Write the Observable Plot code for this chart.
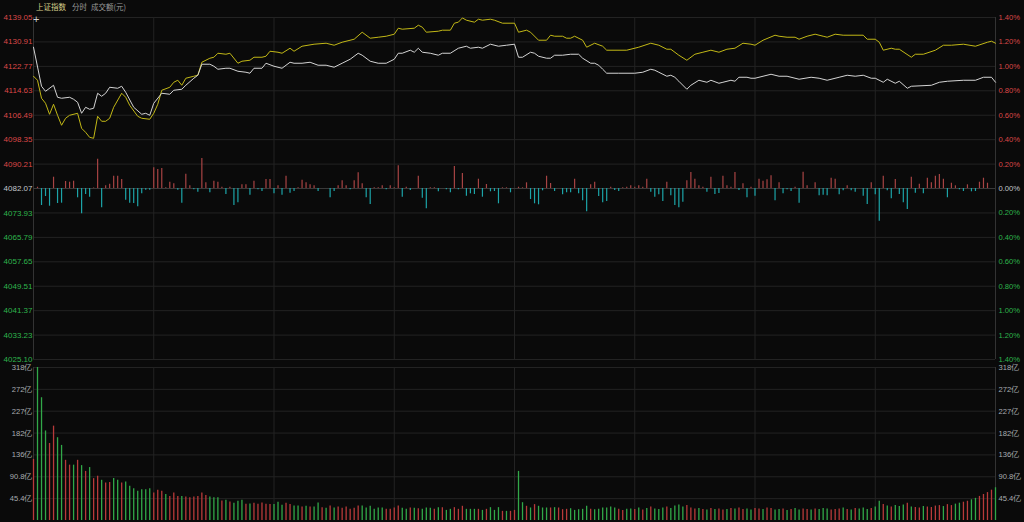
<!DOCTYPE html>
<html><head><meta charset="utf-8">
<script src="https://cdn.jsdelivr.net/npm/d3@7"></script>
<script src="https://cdn.jsdelivr.net/npm/@observablehq/plot@0.6"></script>
<style>
html,body{margin:0;padding:0;background:#0a0a0a;}
#wrap{position:relative;width:1024px;height:522px;overflow:hidden;background:#0a0a0a;font-family:"Liberation Sans",Arial,"Noto Sans CJK SC",sans-serif;}
#title{position:absolute;left:36px;top:1px;font-size:7.5px;line-height:12px;color:#9a9a9a;z-index:3;white-space:nowrap;font-family:"Noto Sans CJK SC","Liberation Sans",sans-serif}
#title .n{color:#d9cf8c;margin-right:6px}
#title .s{margin-right:4px}
#cross{position:absolute;left:33px;top:13px;font-size:11px;color:#cfcfcf;z-index:3;font-family:"Liberation Sans",Arial,sans-serif}
svg.panel{position:absolute;left:0}
</style></head><body>
<div id="wrap"><div id="title"><span class="n">上证指数</span><span class="s">分时</span><span>成交额(元)</span></div><div id="cross">+</div></div>
<script>
// ---------- data ----------
const preClose = 4082.07;
const priceTicks = [4139.05,4130.91,4122.77,4114.63,4106.49,4098.35,4090.21,4082.07,4073.93,4065.79,4057.65,4049.51,4041.37,4033.23,4025.10];
const pctLabels = ["1.40%","1.20%","1.00%","0.80%","0.60%","0.40%","0.20%","0.00%","0.20%","0.40%","0.60%","0.80%","1.00%","1.20%","1.40%"];
const volTicks = [45.4,90.8,136.2,181.6,227,272.4,317.8];
const volLabels = ["45.4亿","90.8亿","136亿","182亿","227亿","272亿","318亿"];
const gridMinutes = [30,60,90,120,150,180,210];

// index (white) [minute, price]
const whiteLine = [[0,4129.15],[2,4116.14],[3,4114.47],[5,4116.47],[6,4112.47],[7,4112.14],[9,4112.47],[10,4111.81],[11,4110.81],[12,4107.14],[13,4109.14],[14,4108.47],[15,4108.80],[16,4113.81],[17,4112.81],[18,4113.81],[19,4115.81],[21,4115.47],[22,4116.14],[23,4114.14],[25,4109.14],[27,4106.80],[28,4107.14],[29,4106.47],[30,4110.47],[32,4113.81],[34,4113.47],[35,4114.81],[37,4115.14],[38,4116.47],[40,4118.81],[41,4119.81],[42,4123.48],[44,4123.48],[45,4122.81],[46,4121.81],[48,4122.14],[49,4122.14],[51,4121.14],[53,4120.81],[54,4120.48],[55,4122.14],[57,4122.14],[58,4123.81],[60,4122.81],[62,4122.14],[64,4124.14],[65,4123.81],[67,4123.81],[69,4124.14],[71,4123.15],[73,4123.15],[75,4122.48],[77,4123.81],[79,4125.14],[81,4127.14],[82,4126.48],[84,4124.48],[86,4123.81],[88,4123.81],[90,4125.14],[91,4127.14],[92,4127.14],[94,4128.15],[95,4127.48],[96,4128.81],[97,4127.48],[99,4127.14],[101,4126.48],[102,4127.14],[104,4127.14],[106,4128.81],[108,4129.48],[109,4128.81],[111,4129.15],[112,4128.81],[114,4130.15],[116,4129.48],[118,4129.81],[120,4130.15],
[121,4125.81],[122,4125.81],[124,4127.48],[125,4127.14],[126,4126.14],[128,4125.48],[129,4125.48],[130,4126.48],[132,4126.48],[134,4126.81],[136,4126.81],[137,4125.48],[139,4123.81],[140,4123.81],[141,4123.15],[142,4121.81],[143,4120.48],[146,4120.48],[150,4120.48],[152,4120.81],[154,4121.81],[155,4121.48],[156,4120.81],[158,4119.48],[159,4119.81],[160,4119.14],[161,4117.81],[163,4115.14],[164,4116.47],[166,4118.14],[168,4117.47],[169,4118.14],[171,4117.14],[172,4117.47],[174,4118.14],[175,4117.81],[176,4119.14],[178,4119.14],[179,4118.81],[180,4118.81],[182,4119.48],[184,4120.14],[186,4119.48],[188,4119.48],[191,4118.48],[194,4119.14],[196,4118.81],[198,4118.14],[201,4119.14],[203,4119.81],[205,4119.48],[207,4119.81],[209,4118.81],[210,4118.81],[212,4117.47],[213,4118.48],[215,4117.14],[216,4117.81],[218,4115.47],[219,4116.14],[224,4116.47],[226,4117.47],[228,4117.81],[232,4118.14],[235,4118.14],[237,4119.14],[239,4119.14],[240,4117.47]];

// leading indicator (yellow) [minute, price]
const yellowLine = [[0,4119.48],[1,4118.14],[2,4112.14],[3,4110.47],[4,4106.80],[5,4110.14],[6,4106.47],[7,4103.14],[8,4105.47],[9,4106.47],[11,4107.14],[12,4102.13],[13,4100.80],[14,4099.13],[15,4098.80],[16,4106.14],[17,4104.47],[18,4104.47],[19,4105.47],[20,4109.14],[22,4113.81],[23,4112.47],[24,4109.81],[26,4106.14],[27,4105.47],[29,4105.14],[30,4107.14],[31,4110.14],[32,4114.81],[34,4115.81],[35,4117.47],[36,4118.14],[37,4116.47],[38,4118.81],[40,4119.48],[41,4119.81],[42,4124.14],[44,4125.48],[45,4125.81],[46,4127.14],[48,4126.81],[49,4127.14],[51,4123.81],[52,4124.48],[54,4124.81],[55,4125.81],[57,4125.81],[58,4126.14],[59,4127.81],[61,4127.48],[62,4127.14],[64,4128.81],[65,4127.81],[67,4129.48],[70,4130.15],[73,4130.48],[75,4129.81],[77,4130.81],[80,4131.81],[82,4134.15],[84,4132.15],[86,4132.48],[88,4132.81],[90,4133.48],[91,4135.48],[92,4135.15],[95,4135.48],[96,4136.48],[97,4135.82],[98,4134.15],[101,4134.48],[102,4134.82],[104,4134.82],[105,4137.15],[106,4137.49],[107,4138.90],[108,4138.15],[110,4137.49],[111,4138.48],[112,4138.15],[114,4138.48],[115,4138.15],[117,4137.15],[120,4137.15],
[121,4134.15],[123,4134.82],[124,4134.15],[126,4131.48],[128,4131.48],[129,4133.15],[130,4132.81],[132,4132.81],[133,4132.15],[134,4132.15],[135,4132.81],[137,4131.48],[138,4129.15],[140,4130.48],[142,4129.48],[143,4128.15],[148,4128.15],[151,4129.15],[154,4130.48],[156,4129.81],[158,4128.48],[159,4128.48],[161,4126.48],[163,4124.81],[165,4126.81],[167,4127.48],[169,4128.15],[171,4127.48],[173,4128.48],[175,4128.81],[177,4130.48],[179,4130.15],[180,4129.81],[182,4131.48],[185,4133.15],[186,4132.81],[188,4132.48],[190,4132.48],[191,4131.81],[193,4132.81],[195,4133.48],[197,4132.81],[198,4132.48],[200,4133.48],[202,4133.15],[207,4133.15],[208,4131.81],[210,4131.81],[211,4130.81],[212,4128.15],[214,4128.81],[215,4128.48],[216,4128.48],[219,4125.81],[220,4126.81],[222,4126.81],[225,4128.15],[227,4129.81],[229,4129.81],[232,4130.15],[235,4129.48],[238,4130.81],[239,4131.15],[240,4130.48]];

// per-minute breadth indicator (arbitrary units, minute 0..240)
const breadth = [
0,1.3,-17,-8,-17.7,11.3,-15,-14.7,7,6.3,
7.3,-9.3,-25.3,-6,-8.7,0.5,29.3,-19.3,2.7,4.3,
12.3,12.3,9,-11.7,-14.7,-15,-18.3,-5.3,-1.7,-1.7,
20.7,19,20,0.7,6.3,4.7,-1.7,-14.7,14.3,2.7,
-1.3,-3.7,30,5.7,-4.3,7.3,6.3,1.3,-6,1.3,
-17,-14.3,3.7,3.7,-6.7,7.3,-1.3,-3,9,9,
-5.3,2.7,-6.7,12.3,-4.7,-3,0.7,8.3,5.7,3.7,
2.7,-3,0,0,-9.3,-3,2.7,7.7,2.7,-1.3,
7.7,15.7,4.7,-9.3,-16,0.7,0.7,2.7,-1.3,2.7,
0.7,22.7,-8.7,1.3,-2,0,12.3,-9.7,-20.3,0.7,
0.7,-3.3,0,-1.3,-4.3,22,-1.3,15,-7.7,-5.3,
-6,9.3,-8.7,4,-3.3,-3,-15.3,0.7,0.7,-4.3,
0,1.3,0.7,5.7,-11,-15.3,-16.3,-2.3,12.3,5,
-3,0,-6.3,-4.3,-4.3,9.3,-5.3,-12.3,-23.3,3.7,
6.3,-8,-14.3,-13,1.3,-2,-3,0.7,1.3,2.7,
1.3,2.7,1.3,9.3,-3.7,-8.7,-6.3,-13,6.3,-7.3,
-17,-19.3,-13.7,7.7,16,9.3,2.7,1.3,-3.7,11.3,
-6,-5,12.3,2.7,1.3,16,-2,4.7,-9.3,1.3,
-7.7,9.3,7.3,8.7,12.7,-12.3,5.7,-5.3,-1.3,-3,
1.3,-14.7,16.3,2.7,0,5.7,-7.3,-6.7,-7.3,10.3,
9.3,-6.3,-2.3,2.7,-2.3,-3.7,0,-7.7,-16,5.7,
-6.3,-32.7,12.3,-2.3,-10.3,9,-6,-14.3,-21,11.3,
-4.7,4.3,-5.3,10.3,5.7,12.3,14,9.3,-9.3,5.3,
2.7,-1.3,-3,3.7,-3.3,-3,6.3,10.3,5.3,0,
0];

// turnover per minute, 亿 (minute 0..240)
const volume = [
127,317.8,255,186,160,196,172,156,125,115,
115,125,114,102,110,87,92,83.5,78,79,
87,83.5,78,80,71,66,61,64,64,66,
57,63,61,54,50,57,50,50,49,47.5,
49,50,57,52,49,47,47.5,40.5,42,38.4,
36,40,42,33.6,34.5,36,33.6,36.3,33.6,33,
33,37.7,31.5,35.6,33,30,30,28,29.5,28,
28,36.3,26.7,25.3,30,26,28,25.3,28,23.2,
25.3,30,30,26,29.5,23.2,26,26,23.2,23.2,
26,30,25.3,23.2,26,25.3,24.5,23.2,26,25.3,
23.2,26.7,26.7,21,23.2,26.7,23.2,29.5,23.2,23.2,
23.2,23.2,21,23.2,26.7,21,26.7,19,19,19,
21,102,37,29.5,26,33,29.5,26,26,26,
26.7,26,22.5,23.2,24.5,21,22.5,23.2,29.5,23.2,
22.5,23.2,26,26,28,26,23.2,21,23.2,
24,23,26,22,25,28,24,23,26,28,25,30,
32,28,31,26,24,25,23,22,25,23,24,22,
23,25,24,26,23,24,22,25,24,23,26,25,
22,23,24,21,23,25,22,24,23,22,24,23,
25,24,22,23,24,26,23,22,25,24,26,23,
25,28,40,33,30,28,31,29,32,36,28,27,
26,29,28,27,30,31,29,33,31,34,36,38,
40,43,46,50,54,58,63,68];

// bar direction per minute: r = up, g = down
const volDir = ("rgggrrggrr"+"grgrgrrgrr"+"ggrggggggg"+"rrrgrrrgrr"+"rrrrgggrgr"+"gggrgrrrrr"+"gggrrggrgr"+"ggrgrgrrrr"+"rrggggggrr"+"rrggrgrggg"+"rgrggrrrgg"+"grgrgggrgr"+"rggrgrgggr"+"grrrgggggr"+"ggggggrrg"
  +"grgrgrgggrgg"+"ggrrrgrgrgrr"+"grgrrggrrgrr"+"ggrgrggrrgrg"+"ggrrrgrgrggg"+"rggrgrgggrgr"+"rgrrrrgrrggr"+"rggrrrrg").split("");

// ---------- drawing ----------
const W = 1024, ML = 33, MR = 29;
const FONT = "Liberation Sans, Arial, sans-serif";
const RED = "#dc4848", GREEN = "#2eb44c", GREYTXT = "#c4c8cc";
const GRID = "#232323", BORDER = "#333333";
const BREADTH_SCALE = 0.333; // indicator units -> index points
const wrap = document.getElementById("wrap");

const toRows = arr => arr.map(([m, p]) => ({m, p}));
const breadthRows = breadth.map((v, m) => ({m, v})).filter(d => d.v !== 0);
const volRows = volume.map((v, m) => ({m, v, c: volDir[m] === "g" ? "#31a848" : "#b83a3a"}));

const priceColor = d => Math.abs(d - preClose) < 0.005 ? GREYTXT : (d > preClose ? RED : GREEN);

const pricePlot = Plot.plot({
  width: W, height: 362, marginLeft: ML, marginRight: MR, marginTop: 17, marginBottom: 3,
  style: {background: "transparent", overflow: "visible"},
  x: {domain: [0, 240], axis: null},
  y: {domain: [4025.10, 4139.05], axis: null},
  color: {type: "identity"},
  marks: [
    Plot.ruleY(priceTicks, {y: d => d, stroke: GRID}),
    Plot.ruleX(gridMinutes, {x: d => d, stroke: GRID}),
    Plot.ruleX([0, 240], {x: d => d, stroke: BORDER}),
    Plot.ruleY([preClose], {y: d => d, stroke: "#3a3a3a"}),
    Plot.ruleX(breadthRows, {x: "m", y1: () => preClose, y2: d => preClose + d.v * BREADTH_SCALE,
      stroke: d => d.v > 0 ? "#a84444" : "#1ca4a8", strokeWidth: 1.2}),
    Plot.line(toRows(yellowLine), {x: "m", y: "p", stroke: "#c2b816", strokeWidth: 1}),
    Plot.line(toRows(whiteLine), {x: "m", y: "p", stroke: "#d4d4d4", strokeWidth: 1}),
    Plot.text(priceTicks, {x: () => 0, y: d => d, text: d => d.toFixed(2), textAnchor: "end", dx: -1,
      fill: priceColor, fontSize: 8, fontFamily: FONT}),
    Plot.text(priceTicks, {x: () => 240, y: d => d, text: (d, i) => pctLabels[i], textAnchor: "start", dx: 3,
      fill: priceColor, fontSize: 7.6, fontFamily: FONT})
  ]
});
pricePlot.classList.add("panel");
pricePlot.style.top = "0px";
wrap.appendChild(pricePlot);

const volPlot = Plot.plot({
  width: W, height: 162, marginLeft: ML, marginRight: MR, marginTop: 7, marginBottom: 2,
  style: {background: "transparent", overflow: "visible"},
  x: {domain: [0, 240], axis: null},
  y: {domain: [0, 317.8], axis: null},
  color: {type: "identity"},
  marks: [
    Plot.ruleY(volTicks, {y: d => d, stroke: GRID}),
    Plot.ruleX(gridMinutes, {x: d => d, stroke: GRID}),
    Plot.ruleX([0, 240], {x: d => d, stroke: BORDER}),
    Plot.ruleX(volRows, {x: "m", y1: () => 0, y2: "v", stroke: "c", strokeWidth: 1.3}),
    Plot.text(volTicks, {x: () => 0, y: d => d, text: (d, i) => volLabels[i], textAnchor: "end", dx: -1,
      fill: "#a8acb0", fontSize: 7.6, fontFamily: FONT}),
    Plot.text(volTicks, {x: () => 240, y: d => d, text: (d, i) => volLabels[i], textAnchor: "start", dx: 3,
      fill: "#a8acb0", fontSize: 7.6, fontFamily: FONT})
  ]
});
volPlot.classList.add("panel");
volPlot.style.top = "360px";
wrap.appendChild(volPlot);
</script>
</body></html>
